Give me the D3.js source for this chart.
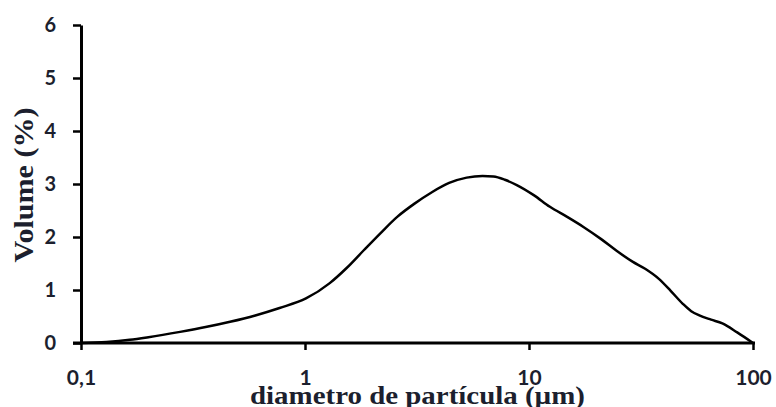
<!DOCTYPE html>
<html>
<head>
<meta charset="utf-8">
<script src="https://cdn.jsdelivr.net/npm/d3@7"></script>
<style>
  html, body { margin: 0; padding: 0; background: #fff; }
  svg { display: block; }
</style>
</head>
<body>
<div id="container"></div>
<script>
const width = 776;
const height = 407;
const margin = { top: 25, right: 23, bottom: 64, left: 81 };

// particle diameter (µm) and volume (%)
const diameters = [0.1, 0.13, 0.165, 0.2, 0.277, 0.36, 0.463, 0.6, 0.77, 1.01, 1.29, 1.53, 1.83, 2.17, 2.58, 3.06, 3.7, 4.4, 5.27, 6.2, 6.94, 7.8, 8.82, 10.5, 12.4, 14.8, 17.5, 21, 24.6, 29.1, 33, 38, 43, 48.6, 53, 57.6, 65, 73, 85, 100];
const volumes = [0.0, 0.02, 0.06, 0.11, 0.21, 0.3, 0.4, 0.52, 0.66, 0.84, 1.13, 1.41, 1.75, 2.07, 2.38, 2.62, 2.85, 3.02, 3.12, 3.15, 3.14, 3.08, 2.98, 2.79, 2.57, 2.38, 2.19, 1.96, 1.74, 1.53, 1.4, 1.21, 0.98, 0.74, 0.6, 0.52, 0.44, 0.37, 0.2, 0.0];
const xTicks = [0.1, 1, 10, 100];
const xTickLabels = ["0,1", "1", "10", "100"];
const yTicks = [0, 1, 2, 3, 4, 5, 6];

const data = diameters.map((d, i) => ({ d, v: volumes[i] }));

const svg = d3.select("#container")
  .append("svg")
  .attr("width", width)
  .attr("height", height);

const x = d3.scaleLog()
  .domain([0.1, 100])
  .range([margin.left, width - margin.right]);

const y = d3.scaleLinear()
  .domain([0, 6])
  .range([height - margin.bottom, margin.top]);

const labelColor = "#1c1f2e";

// y axis
const yAxis = svg.append("g")
  .attr("transform", `translate(${margin.left},0)`)
  .call(d3.axisLeft(y).tickValues(yTicks).tickSize(8).tickSizeOuter(0).tickPadding(17)
    .tickFormat(d3.format("d")));

// x axis
const xAxis = svg.append("g")
  .attr("transform", `translate(0,${y(0)})`)
  .call(d3.axisBottom(x).tickValues(xTicks).tickSize(7).tickSizeOuter(0).tickPadding(20)
    .tickFormat((d, i) => xTickLabels[i]));

[yAxis, xAxis].forEach((g) => {
  g.select(".domain").attr("stroke", "#000").attr("stroke-width", 3);
  g.selectAll(".tick line").attr("stroke", "#000").attr("stroke-width", 2.5);
  g.selectAll(".tick text")
    .attr("fill", labelColor)
    .attr("font-family", "Lato, 'Open Sans', sans-serif")
    .attr("font-weight", "bold");
});
yAxis.selectAll(".tick text").attr("font-size", 20);
xAxis.selectAll(".tick text").attr("font-size", 21);

// x axis line extends slightly left of the y axis
xAxis.select(".domain").attr("d", `M${margin.left - 8},0H${width - margin.right + 2}`);

// curve
const line = d3.line()
  .x((d) => x(d.d))
  .y((d) => y(d.v))
  .curve(d3.curveMonotoneX);

svg.append("path")
  .datum(data)
  .attr("fill", "none")
  .attr("stroke", "#000")
  .attr("stroke-width", 2.5)
  .attr("d", line);

// axis titles
svg.append("text")
  .attr("transform", `translate(33,${(107 + 263) / 2}) rotate(-90)`)
  .attr("text-anchor", "middle")
  .attr("font-family", "'Liberation Serif', 'DejaVu Serif', serif")
  .attr("font-weight", "bold")
  .attr("font-size", 27)
  .attr("textLength", 155)
  .attr("lengthAdjust", "spacingAndGlyphs")
  .attr("fill", labelColor)
  .text("Volume (%)");

svg.append("text")
  .attr("x", 250)
  .attr("y", 404)
  .attr("font-family", "'Liberation Serif', 'DejaVu Serif', serif")
  .attr("font-weight", "bold")
  .attr("font-size", 25)
  .attr("textLength", 335)
  .attr("lengthAdjust", "spacingAndGlyphs")
  .attr("fill", labelColor)
  .text("diametro  de partícula  (µm)");
</script>
</body>
</html>
